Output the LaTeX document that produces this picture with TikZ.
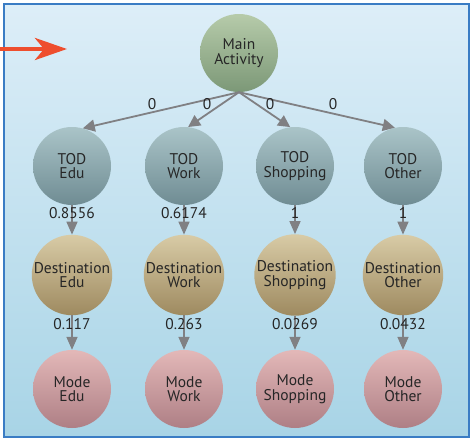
\documentclass[tikz,border=0pt]{standalone}
\usepackage{fontspec}
\setmainfont{PT Sans}
\usetikzlibrary{arrows.meta}
\definecolor{bgtop}{HTML}{DDEEF8}
\definecolor{bgbot}{HTML}{A8D4E6}
\definecolor{frame}{HTML}{3A7CC4}
\definecolor{redarrow}{HTML}{EE4E2E}
\definecolor{edgegray}{HTML}{808083}
\definecolor{mainT}{HTML}{B6CBAA}\definecolor{mainB}{HTML}{7C9877}
\definecolor{todT}{HTML}{AAC4C8}\definecolor{todB}{HTML}{6F8C93}
\definecolor{dstT}{HTML}{D8CBA6}\definecolor{dstB}{HTML}{9E8A60}
\definecolor{modT}{HTML}{E3B8B8}\definecolor{modB}{HTML}{AE7F85}
\tikzset{
  ball/.style={circle, minimum size=78pt, inner sep=0pt, align=center,
    font=\fontsize{15.5}{14.5}\selectfont, text=black!85},
  mainball/.style={ball, top color=mainT, bottom color=mainB},
  todball/.style={ball, top color=todT, bottom color=todB},
  dstball/.style={ball, top color=dstT, bottom color=dstB},
  modball/.style={ball, top color=modT, bottom color=modB},
  edge/.style={draw=edgegray, line width=1.6pt, -{Triangle[length=13pt,width=11pt]}},
  fanedge/.style={draw=edgegray, line width=1.8pt, -{Triangle[length=12pt,width=12pt]}},
  elabel/.style={font=\fontsize{15.5}{14}\selectfont, text=black!85, inner sep=0pt}
}
\begin{document}
\begin{tikzpicture}[x=1pt,y=-1pt]
\useasboundingbox (0,0) rectangle (472,440);
\shade[top color=bgtop, bottom color=bgbot] (4,4) rectangle (469,437);
\draw[frame, line width=2pt] (4,4) rectangle (469,437);
% red arrow
\coordinate (rs) at (0,49);
\coordinate (re) at (67,49);
\draw[redarrow, line width=4.5pt, -{Stealth[length=32pt,width=22pt,inset=9pt]}] (rs) -- (re);
% nodes
\node[mainball] (main) at (239,53) {Main\\Activity};
\foreach \n/\x/\t in {edu/72/Edu, work/184/Work, shop/295/Shopping, oth/403/Other}{
  \node[todball] (tod\n) at (\x,166) {TOD\\\t};
  \node[dstball] (dst\n) at (\x,275) {Destination\\\t};
  \node[modball] (mod\n) at (\x,389) {Mode\\\t};
}
% fan edges
\draw[fanedge] (main.south) -- (todedu.74);
\draw[fanedge] (main.south) -- (todwork.84);
\draw[fanedge] (main.south) -- (todshop.97);
\draw[fanedge] (main.south) -- (todoth.102);
\node[elabel] at (152,104) {0};
\node[elabel] at (207,104) {0};
\node[elabel] at (270,104) {0};
\node[elabel] at (333,104) {0};
% vertical edges
\foreach \n in {edu,work,shop,oth}{
  \draw[edge] (tod\n.south) -- (dst\n.north);
  \draw[edge] (dst\n.south) -- (mod\n.north);
}
\node[elabel] at (72,213) {0.8556};
\node[elabel] at (184,213) {0.6174};
\node[elabel] at (295,213) {1};
\node[elabel] at (403,213) {1};
\node[elabel] at (72,324) {0.117};
\node[elabel] at (184,324) {0.263};
\node[elabel] at (295,324) {0.0269};
\node[elabel] at (403,324) {0.0432};
\end{tikzpicture}
\end{document}
